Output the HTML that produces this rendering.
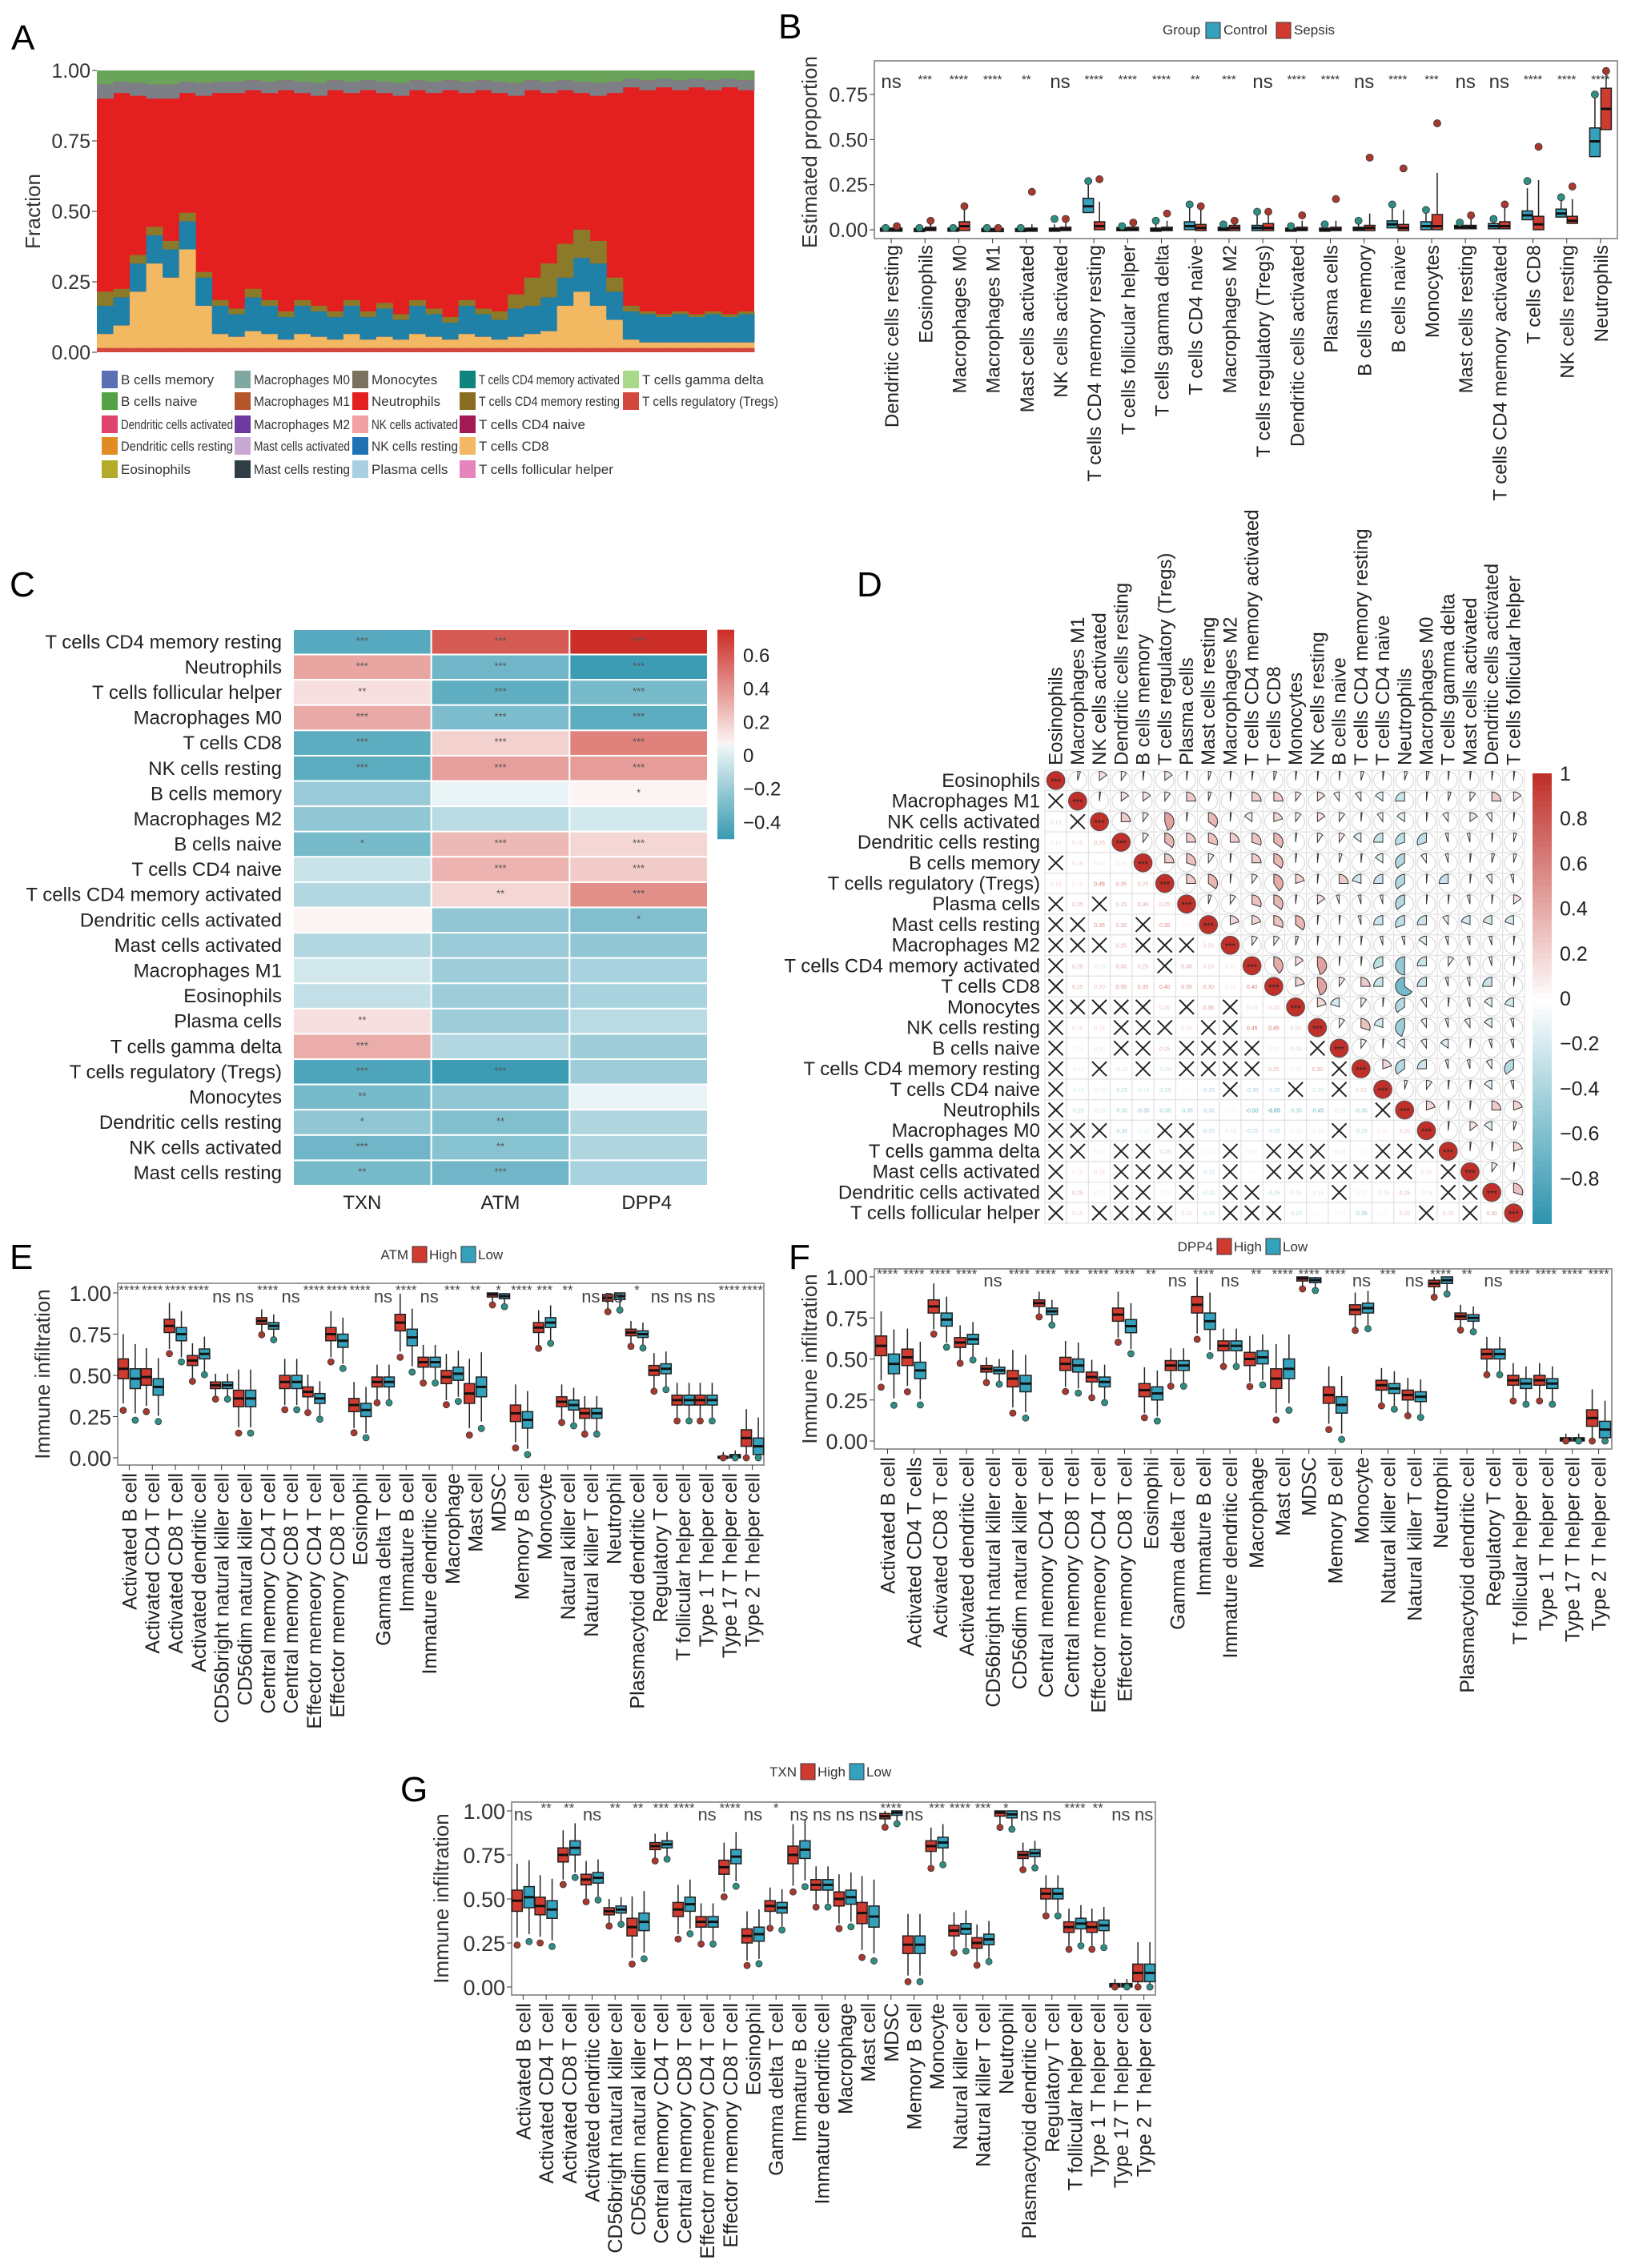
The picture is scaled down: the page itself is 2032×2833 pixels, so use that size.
<!DOCTYPE html>
<html><head><meta charset="utf-8">
<style>
html,body{margin:0;padding:0;background:#fff;}
svg{display:block;font-family:"Liberation Sans",sans-serif;}
.n{font-family:"Liberation Sans Narrow","Liberation Sans",sans-serif;}
</style></head>
<body>
<svg id="fig" width="2032" height="2833" viewBox="0 0 2032 2833" xmlns="http://www.w3.org/2000/svg"></svg>
<script>
// ---------- DATA ----------
const aOrange=[0.05,0.08,0.2,0.3,0.25,0.35,0.15,0.05,0.04,0.06,0.05,0.03,0.05,0.04,0.03,0.05,0.03,0.04,0.03,0.05,0.04,0.03,0.05,0.04,0.03,0.04,0.05,0.06,0.15,0.2,0.15,0.1,0.03,0.02,0.02,0.02,0.02,0.02,0.02,0.02];
const aTeal=[0.1,0.1,0.1,0.1,0.1,0.1,0.1,0.1,0.08,0.12,0.1,0.08,0.1,0.09,0.08,0.1,0.08,0.1,0.07,0.1,0.08,0.06,0.1,0.08,0.07,0.1,0.1,0.12,0.1,0.12,0.15,0.1,0.1,0.1,0.09,0.1,0.09,0.1,0.09,0.1];
const aOlive=[0.05,0.03,0.03,0.03,0.03,0.03,0.02,0.02,0.02,0.03,0.02,0.02,0.02,0.02,0.02,0.02,0.02,0.02,0.02,0.02,0.02,0.02,0.02,0.02,0.03,0.05,0.1,0.12,0.12,0.1,0.08,0.05,0.02,0.01,0.01,0.01,0.01,0.01,0.01,0.01];
const aTop=[0.1,0.08,0.09,0.1,0.1,0.08,0.09,0.08,0.08,0.07,0.08,0.07,0.08,0.09,0.07,0.08,0.07,0.08,0.09,0.07,0.08,0.07,0.08,0.07,0.08,0.09,0.07,0.08,0.07,0.08,0.09,0.08,0.06,0.07,0.06,0.07,0.06,0.07,0.06,0.07];
const aTicks=["0.00","0.25","0.50","0.75","1.00"];
const legNames=["B cells memory","B cells naive","Dendritic cells activated","Dendritic cells resting","Eosinophils","Macrophages M0","Macrophages M1","Macrophages M2","Mast cells activated","Mast cells resting","Monocytes","Neutrophils","NK cells activated","NK cells resting","Plasma cells","T cells CD4 memory activated","T cells CD4 memory resting","T cells CD4 naive","T cells CD8","T cells follicular helper","T cells gamma delta","T cells regulatory (Tregs)"];
const legColors=["#5b6fb5","#55a146","#e0436d","#e08c24","#b3ab2a","#7fa9a0","#b5552a","#6c3a9e","#c9a9d4","#2f3d44","#7b715e","#e3201f","#f2a0a3","#1f73b5","#a9cfe3","#0f857e","#8a6d22","#a01b52","#f3b862","#e584bd","#a8d88a","#d4473d"];
const bCats=["Dendritic cells resting","Eosinophils","Macrophages M0","Macrophages M1","Mast cells activated","NK cells activated","T cells CD4 memory resting","T cells follicular helper","T cells gamma delta","T cells CD4 naive","Macrophages M2","T cells regulatory (Tregs)","Dendritic cells activated","Plasma cells","B cells memory","B cells naive","Monocytes","Mast cells resting","T cells CD4 memory activated","T cells CD8","NK cells resting","Neutrophils"];
const bSig=["ns","***","****","****","**","ns","****","****","****","**","***","ns","****","****","ns","****","***","ns","ns","****","****","****"];
const ctrlQ1=[0,0,0,0,0,0,0.1,0,0,0.005,0,0,0,0,0,0.015,0.005,0.01,0.01,0.06,0.075,0.41];
const ctrlMed=[0,0,0,0,0,0,0.13,0.003,0,0.02,0.003,0.01,0,0,0.005,0.03,0.02,0.015,0.02,0.08,0.09,0.49];
const ctrlQ3=[0.005,0.003,0.005,0.003,0.003,0.005,0.17,0.008,0.005,0.04,0.01,0.02,0.005,0.005,0.01,0.045,0.04,0.02,0.03,0.1,0.11,0.56];
const ctrlMax=[0.01,0.01,0.01,0.01,0.01,0.06,0.27,0.02,0.05,0.14,0.03,0.1,0.02,0.03,0.05,0.14,0.11,0.04,0.06,0.27,0.18,0.75];
const sepQ1=[0,0,0,0,0,0,0.005,0,0,0,0,0,0,0,0,0,0.005,0.01,0.01,0.005,0.04,0.56];
const sepMed=[0,0.003,0.02,0,0,0.003,0.02,0.003,0.003,0.01,0.01,0.01,0.003,0.003,0.01,0.01,0.02,0.015,0.02,0.03,0.05,0.67];
const sepQ3=[0.005,0.01,0.04,0.003,0.005,0.01,0.04,0.01,0.01,0.025,0.02,0.03,0.01,0.01,0.02,0.025,0.08,0.02,0.04,0.07,0.07,0.78];
const sepMax=[0.02,0.05,0.13,0.01,0.21,0.06,0.28,0.04,0.09,0.13,0.05,0.1,0.08,0.17,0.4,0.34,0.59,0.08,0.14,0.46,0.24,0.88];
const bTicks=[0,0.25,0.5,0.75];
const cRows=["T cells CD4 memory resting","Neutrophils","T cells follicular helper","Macrophages M0","T cells CD8","NK cells resting","B cells memory","Macrophages M2","B cells naive","T cells CD4 naive","T cells CD4 memory activated","Dendritic cells activated","Mast cells activated","Macrophages M1","Eosinophils","Plasma cells","T cells gamma delta","T cells regulatory (Tregs)","Monocytes","Dendritic cells resting","NK cells activated","Mast cells resting"];
const cCols=["TXN","ATM","DPP4"];
const cTXN=[-0.4,0.35,0.15,0.33,-0.38,-0.38,-0.2,-0.22,-0.3,-0.05,-0.12,0.08,-0.12,-0.02,-0.07,0.15,0.32,-0.42,-0.3,-0.22,-0.32,-0.3];
const cATM=[0.6,-0.32,-0.37,-0.28,0.2,0.37,0.05,-0.1,0.28,0.3,0.18,-0.22,-0.2,-0.18,-0.18,-0.18,-0.12,-0.48,-0.22,-0.27,-0.25,-0.32];
const cDPP4=[0.75,-0.48,-0.3,-0.38,0.47,0.38,0.08,-0.02,0.18,0.22,0.42,-0.27,-0.22,-0.15,-0.15,-0.1,-0.18,-0.18,0.05,-0.13,-0.13,-0.15];
const cSigTXN=["***","***","**","***","***","***","","","*","","","","","","","**","***","***","**","*","***","**"];
const cSigATM=["***","***","***","***","***","***","","","***","***","**","","","","","","","***","","**","**","***"];
const cSigDPP4=["***","***","***","***","***","***","*","","***","***","***","*","","","","","","","","","",""];
const cTicks=[0.6,0.4,0.2,0,-0.2,-0.4];
const dLabels=["Eosinophils","Macrophages M1","NK cells activated","Dendritic cells resting","B cells memory","T cells regulatory (Tregs)","Plasma cells","Mast cells resting","Macrophages M2","T cells CD4 memory activated","T cells CD8","Monocytes","NK cells resting","B cells naive","T cells CD4 memory resting","T cells CD4 naive","Neutrophils","Macrophages M0","T cells gamma delta","Mast cells activated","Dendritic cells activated","T cells follicular helper"];
const dUpper=[
[0.05,0.15,0.1,0.02,0.15,0.02,0.05,0.02,0.02,0.05,0.02,0.02,0.02,0.05,0.02,0.05,0.05,0.02,0.02,0.02,0.02],
[0.02,0.15,0.15,0.1,0.25,0.05,0.02,0.25,0.25,0.1,0.15,-0.1,-0.1,-0.15,-0.25,0.02,0.05,0.1,0.25,0.15],
[0.25,0.1,0.45,0.02,0.35,0.02,-0.15,0.2,0.1,0.15,0.1,0.02,-0.1,-0.15,0.02,-0.1,0.15,-0.1,0.02],
[0.1,0.35,0.25,0.3,0.25,0.3,0.35,0.02,0.1,0.1,-0.15,-0.25,-0.3,-0.3,-0.05,-0.05,0.02,0.05],
[0.25,0.3,0.1,0.02,0.25,0.35,0.02,0.02,0.05,0.02,-0.15,-0.35,-0.1,-0.05,0.02,0.05,0.05],
[0.25,0.35,0.02,0.1,0.4,0.2,0.02,0.25,-0.2,-0.25,-0.35,0.02,-0.25,0.02,-0.1,-0.05],
[0.05,0.1,0.3,0.35,0.02,0.15,-0.05,-0.05,-0.05,-0.35,0.02,0.02,-0.05,0.02,0.15],
[0.2,0.2,0.3,0.35,0.02,0.02,-0.05,-0.25,-0.3,-0.25,-0.1,-0.2,-0.2,-0.2],
[0.1,0.1,0.05,0.02,0.02,0.02,-0.05,-0.05,-0.15,-0.05,-0.05,-0.05,0.02],
[0.4,0.15,0.45,0.02,0.02,-0.3,-0.5,-0.25,0.1,-0.05,-0.05,0.02],
[0.2,0.45,0.1,0.25,-0.25,-0.65,-0.25,-0.05,-0.05,-0.25,0.02],
[0.2,-0.2,0.1,0.02,-0.35,-0.1,0.02,-0.05,-0.15,-0.2],
[0.1,0.3,-0.2,-0.45,-0.1,-0.05,-0.1,-0.15,-0.05],
[0.1,0.02,-0.15,-0.1,-0.15,0.02,-0.05,-0.05],
[0.2,-0.35,-0.25,-0.05,-0.05,-0.1,-0.35],
[0.05,0.1,0.02,0.02,-0.15,-0.05],
[0.2,0.02,0.02,0.25,0.2],
[0.02,0.15,-0.15,0.05],
[0.02,0.02,0.2],
[0.1,0.02],
[0.3]];
const dNonSig=[[],[0],[1],[],[0],[],[0,2],[0,1,4],[0,1,2,4,5,6],[0,5],[0],[0,1,2,3,4,6,8],[0,3,4,5,7,8],[0,3,4,6,7,8,9,12],[0,2,4,6,7,8,9,13],[0,8,11,13],[0,15],[0,1,2,5,6,13],[0,1,3,4,6,8,10,11,12,15,16,17],[0,3,4,5,6,8,10,11,12,13,14,15,16,18],[0,3,4,6,8,9,13,18,19],[0,2,3,4,5,8,9,10,17,19]];
const dTicks=[1,0.8,0.6,0.4,0.2,0,-0.2,-0.4,-0.6,-0.8];
const imCats=["Activated B cell","Activated CD4 T cell","Activated CD8 T cell","Activated dendritic cell","CD56bright natural killer cell","CD56dim natural killer cell","Central memory CD4 T cell","Central memory CD8 T cell","Effector memeory CD4 T cell","Effector memory CD8 T cell","Eosinophil","Gamma delta T cell","Immature B cell","Immature dendritic cell","Macrophage","Mast cell","MDSC","Memory B cell","Monocyte","Natural killer cell","Natural killer T cell","Neutrophil","Plasmacytoid dendritic cell","Regulatory T cell","T follicular helper cell","Type 1 T helper cell","Type 17 T helper cell","Type 2 T helper cell"];
const imSpread=[0.06,0.05,0.04,0.03,0.02,0.05,0.02,0.04,0.03,0.04,0.04,0.03,0.05,0.03,0.04,0.06,0.015,0.05,0.03,0.03,0.03,0.02,0.02,0.03,0.03,0.03,0.01,0.05];
const eHigh=[0.54,0.49,0.8,0.59,0.44,0.36,0.83,0.46,0.4,0.75,0.32,0.46,0.82,0.58,0.49,0.39,0.99,0.27,0.79,0.34,0.27,0.97,0.76,0.53,0.35,0.35,0.0,0.12];
const eLow=[0.48,0.43,0.75,0.63,0.44,0.36,0.8,0.46,0.36,0.71,0.29,0.46,0.73,0.58,0.51,0.43,0.98,0.23,0.82,0.32,0.27,0.98,0.75,0.54,0.35,0.35,0.01,0.07];
const eSig=["****","****","****","****","ns","ns","****","ns","****","****","****","ns","****","ns","***","**","*","****","***","**","ns","ns","*","ns","ns","ns","****","****"];
const fHigh=[0.58,0.51,0.82,0.6,0.44,0.38,0.84,0.47,0.39,0.77,0.31,0.46,0.83,0.58,0.5,0.38,0.99,0.28,0.8,0.34,0.28,0.96,0.76,0.53,0.37,0.37,0.01,0.14];
const fLow=[0.47,0.43,0.74,0.62,0.43,0.35,0.79,0.46,0.36,0.7,0.29,0.46,0.73,0.58,0.51,0.44,0.98,0.22,0.81,0.32,0.27,0.98,0.75,0.53,0.35,0.35,0.01,0.07];
const fSig=["****","****","****","****","ns","****","****","***","****","****","**","ns","****","ns","**","****","****","****","ns","***","ns","****","**","ns","****","****","****","****"];
const gHigh=[0.49,0.46,0.75,0.61,0.43,0.34,0.8,0.44,0.37,0.68,0.29,0.46,0.75,0.58,0.5,0.42,0.97,0.24,0.8,0.32,0.25,0.99,0.75,0.53,0.34,0.34,0.01,0.08];
const gLow=[0.51,0.44,0.79,0.62,0.44,0.37,0.81,0.47,0.37,0.74,0.3,0.45,0.78,0.58,0.51,0.4,0.99,0.24,0.82,0.33,0.27,0.98,0.76,0.53,0.36,0.35,0.01,0.08];
const gSig=["ns","**","**","ns","**","**","***","****","ns","****","ns","*","ns","ns","ns","ns","****","ns","***","****","***","*","ns","ns","****","**","ns","ns"];
const imTicks=["0.00","0.25","0.50","0.75","1.00"];

// ---------- helpers ----------
const NS="http://www.w3.org/2000/svg";
const svg=document.getElementById('fig');
function mk(tag,attrs,parent){const e=document.createElementNS(NS,tag);for(const k in attrs)e.setAttribute(k,attrs[k]);(parent||svg).appendChild(e);return e;}
function txt(s,attrs,parent){const e=mk('text',attrs,parent);e.textContent=s;return e;}
function fit(t,maxW){try{const w=t.getComputedTextLength();if(w>maxW){t.setAttribute('textLength',maxW);t.setAttribute('lengthAdjust','spacingAndGlyphs');}}catch(e){}}
function lerp(a,b,t){return a+(b-a)*t;}
function mix(c1,c2,t){const p=c=>[parseInt(c.substr(1,2),16),parseInt(c.substr(3,2),16),parseInt(c.substr(5,2),16)];const a=p(c1),b=p(c2);return 'rgb('+a.map((v,i)=>Math.round(lerp(v,b[i],t))).join(',')+')';}
const RED="#d13b2f",TEAL="#35a2bd";

[["A",14,62],["B",972,48],["C",12,745],["D",1070,745],["E",12,1585],["F",985,1585],["G",500,2250]].forEach(p=>{
  const t=txt(p[0],{x:p[1],y:p[2],'font-size':44},svg);
  
  
});

// ---------- Panel A ----------
(function(){
  const g=mk('g',{});
  
  
  const x0=121,x1=942,y0=88,y1=440;
  const ys=v=>y1-v*(y1-y0);
  const n=aOrange.length,w=(x1-x0)/n;
  mk('rect',{x:x0,y:y0,width:x1-x0,height:y1-y0,fill:'#e3201f'},g);
  for(let i=0;i<n;i++){
    const x=x0+i*w;let acc=0;
    const segs=[[0.015,'#d4473d'],[aOrange[i],'#f3b862'],[aTeal[i],'#1f80a8'],[aOlive[i],'#8a7a2a']];
    segs.forEach(s=>{const r=mk('rect',{x:x,y:ys(acc+s[0]),width:w+0.5,height:s[0]*(y1-y0),fill:s[1]},g);
      acc+=s[0];});
    const top=aTop[i];
    const r1=mk('rect',{x:x,y:ys(1),width:w+0.5,height:top*0.5*(y1-y0),fill:'#6aa35a'},g);
    
    const r2=mk('rect',{x:x,y:ys(1-top*0.5),width:w+0.5,height:top*0.5*(y1-y0),fill:'#7d7f86'},g);
    
  }
  aTicks.forEach((t,i)=>{const v=i*0.25;
    mk('line',{x1:x0-6,x2:x0,y1:ys(v),y2:ys(v),stroke:'#333'},g);
    const l=txt(t,{x:x0-8,y:ys(v)+9,'text-anchor':'end','font-size':25,fill:'#333',class:'n'},g);
    });
  const yt=txt('Fraction',{x:0,y:0,transform:'translate(50,264) rotate(-90)','text-anchor':'middle','font-size':26,fill:'#333'},g);
  
  const cx=[127,293,440,574,778],ry=[474,501,530,557,586],avail=[140,120,108,176,170];
  legNames.forEach((nm,i)=>{const c=Math.floor(i/5),r=i%5;
    const le=mk('g',{},g);
    mk('rect',{x:cx[c],y:ry[r]-11,width:20,height:22,fill:legColors[i]},le);
    const t=txt(nm,{x:cx[c]+24,y:ry[r]+6,'font-size':17,fill:'#333',class:'n'},le);
    fit(t,avail[c]);});
})();

// ---------- Panel B ----------
(function(){
  const g=mk('g',{});
  
  
  const x0=1092,x1=2020,y0=76,y1=298;
  const ys=v=>287-v*(287-118)/0.75;
  mk('rect',{x:x0,y:y0,width:x1-x0,height:y1-y0,fill:'none',stroke:'#999','stroke-width':2},g);
  const n=bCats.length,step=(x1-x0)/n,bw=13;
  bTicks.forEach(v=>{mk('line',{x1:x0-6,x2:x0,y1:ys(v),y2:ys(v),stroke:'#333'},g);
    const l=txt(v.toFixed(2),{x:x0-8,y:ys(v)+9,'text-anchor':'end','font-size':25,fill:'#333',class:'n'},g);
    });
  const yt=txt('Estimated proportion',{transform:'translate(1020,190) rotate(-90)','text-anchor':'middle','font-size':26,fill:'#333'},g);
  
  function box(cx,q1,m,q3,mx,col){
    const bg=mk('g',{},g);
    mk('line',{x1:cx,x2:cx,y1:ys(q3),y2:ys(Math.min(mx,q3+(q3-q1)*3+0.01)),stroke:'#222','stroke-width':1.5},bg);
    mk('rect',{x:cx-bw/2,y:ys(q3)-1,width:bw,height:Math.max(2,ys(q1)-ys(q3))+2,fill:col,stroke:'#222','stroke-width':1.5},bg);
    mk('line',{x1:cx-bw/2,x2:cx+bw/2,y1:ys(m),y2:ys(m),stroke:'#111','stroke-width':3},bg);
    mk('circle',{cx:cx,cy:ys(mx),r:4.5,fill:col==RED?'#a8392e':'#2f8f85',stroke:'#333','stroke-width':0.8},bg);
  }
  bCats.forEach((c,i)=>{const cx=x0+step*(i+0.5);
    box(cx-7,ctrlQ1[i],ctrlMed[i],ctrlQ3[i],ctrlMax[i],TEAL);
    box(cx+7,sepQ1[i],sepMed[i],sepQ3[i],sepMax[i],RED);
    mk('line',{x1:cx,x2:cx,y1:y1,y2:y1+6,stroke:'#333'},g);
    const s=bSig[i],isNs=s=='ns';
    const st=txt(s,{x:cx,y:isNs?110:104,'text-anchor':'middle','font-size':isNs?24:15,fill:'#333',class:'n'},g);
    
    const l=txt(c,{transform:`translate(${cx+9},306) rotate(-90)`,'text-anchor':'end','font-size':24,fill:'#222'},g);
    });
  const lg=mk('g',{},g);
  txt('Group',{x:1452,y:43,'font-size':17,fill:'#333',class:'n'},lg);
  mk('rect',{x:1506,y:28,width:18,height:20,fill:TEAL,stroke:'#333'},lg);
  txt('Control',{x:1528,y:43,'font-size':17,fill:'#333',class:'n'},lg);
  mk('rect',{x:1594,y:28,width:18,height:20,fill:RED,stroke:'#333'},lg);
  txt('Sepsis',{x:1616,y:43,'font-size':17,fill:'#333',class:'n'},lg);
})();

// ---------- Panel C ----------
(function(){
  const g=mk('g',{});
  
  
  const x0=366,x1=884,y0=786,y1=1481;
  const rh=(y1-y0)/cRows.length,cw=(x1-x0)/3;
  const color=v=>v>=0.08?mix('#fbf4f3','#cc2f27',Math.min(1,(v-0.08)/0.67)):mix('#f4f8f9','#3599b2',Math.min(1,(0.08-v)/0.58));
  const vals=[cTXN,cATM,cDPP4],sigs=[cSigTXN,cSigATM,cSigDPP4];
  cRows.forEach((r,i)=>{
    for(let j=0;j<3;j++){
      const c=mk('rect',{x:x0+j*cw,y:y0+i*rh,width:cw,height:rh,fill:color(vals[j][i]),stroke:'#fff','stroke-width':2},g);
      
      if(sigs[j][i]){const s=txt(sigs[j][i],{x:x0+(j+0.5)*cw,y:y0+i*rh+rh/2+3,'text-anchor':'middle','font-size':13,fill:'#555'},g);
        }
    }
    const l=txt(r,{x:352,y:y0+i*rh+rh/2+8,'text-anchor':'end','font-size':24,fill:'#222',class:'n'},g);
    
  });
  cCols.forEach((c,j)=>{const l=txt(c,{x:x0+(j+0.5)*cw+(j==2?10:0),y:1510,'text-anchor':'middle','font-size':24,fill:'#222',class:'n'},g);
    });
  const cb=mk('g',{},g);
  const cy=v=>943-v*(41.7/0.2);
  for(let k=0;k<60;k++){const v=0.75-k*(1.25/60);
    mk('rect',{x:896,y:cy(v),width:21,height:(1.25/60)*208.5+1,fill:color(v)},cb);}
  cTicks.forEach(v=>{const t=txt(v<0?'\u2212'+Math.abs(v).toFixed(1):(v==0?'0':v.toFixed(1)),{x:928,y:cy(v)+9,'font-size':24,fill:'#222',class:'n'},cb);
    });
})();

// ---------- Panel D ----------
(function(){
  const g=mk('g',{});
  
  
  const n=dLabels.length,x0=1305,x1=1904,y0=962,y1=1528;
  const cw=(x1-x0)/n,ch=(y1-y0)/n;
  const color=v=>v>=0?mix('#ffffff','#c0302a',Math.min(1,v)):mix('#ffffff','#2a93ad',Math.min(1,-v));
  const corr=(a,b)=>{const v=dUpper[a]&&dUpper[a][b-a-1];return (typeof v==='number')?v:0;};
  for(let i=0;i<n;i++){
    const l=txt(dLabels[i],{x:x0-6,y:y0+(i+0.5)*ch+8,'text-anchor':'end','font-size':24,fill:'#222'},g);
    
    const cl=txt(dLabels[i],{transform:`translate(${x0+(i+0.5)*cw+8},${y0-6}) rotate(-90)`,'font-size':24,fill:'#222'},g);
    
    for(let j=0;j<n;j++){
      const cx=x0+(j+0.5)*cw,cy=y0+(i+0.5)*ch;
      mk('rect',{x:x0+j*cw,y:y0+i*ch,width:cw,height:ch,fill:'#fff',stroke:'#e2e2e2','stroke-width':1.2},g);
      const R=Math.min(cw,ch)/2-1.5;
      if(i==j){const d=mk('circle',{cx:cx,cy:cy,r:R,fill:'#c0302a',stroke:'#555','stroke-width':1},g);
        
        txt('***',{x:cx,y:cy+5,'text-anchor':'middle','font-size':11,fill:'#222'},g);}
      else if(j>i){
        const v=corr(i,j);
        mk('circle',{cx:cx,cy:cy,r:R,fill:'none',stroke:'#d9d9d9','stroke-width':1.2},g);
        const a=Math.abs(v)*2*Math.PI*(v>=0?1:-1);
        const ex=cx+R*Math.sin(a),ey=cy-R*Math.cos(a);
        const large=Math.abs(v)>0.5?1:0,sw=v>=0?1:0;
        const p=mk('path',{d:`M${cx},${cy} L${cx},${cy-R} A${R},${R} 0 ${large} ${sw} ${ex},${ey} Z`,fill:color(v),stroke:'#333','stroke-width':1},g);
        
      } else {
        if(dNonSig[i].indexOf(j)>=0){
          const x=mk('path',{d:`M${cx-9},${cy-9} L${cx+9},${cy+9} M${cx+9},${cy-9} L${cx-9},${cy+9}`,stroke:'#222','stroke-width':2},g);
          
        } else {
          const v=corr(j,i);
          txt(v.toFixed(2),{x:cx,y:cy+3,'text-anchor':'middle','font-size':7,fill:color(v*1.5)},g);
        }
      }
    }
  }
  const cb=mk('g',{},g);
  const cy=v=>966+(1-v)*281;
  for(let k=0;k<80;k++){const v=1-k*(2/80);
    mk('rect',{x:1914,y:cy(v),width:24,height:(2/80)*281+1,fill:color(v)},cb);}
  dTicks.forEach(v=>{const t=txt(v<0?'\u2212'+Math.abs(v).toFixed(1):(v==0?'0':(v==1?'1':v.toFixed(1))),{x:1948,y:cy(v)+9,'font-size':25,fill:'#222'},cb);
    });
})();

// ---------- Panels E/F/G ----------
function immune(name,x0,x1,y0,y1,yTop,yBot,hi,lo,sig,gene,legX,legY,titleX,lblY,lblSuffix){
  const g=mk('g',{});
  
  
  const ys=v=>yBot-v*(yBot-yTop);
  mk('rect',{x:x0,y:y0,width:x1-x0,height:y1-y0,fill:'none',stroke:'#999','stroke-width':2},g);
  imTicks.forEach((t,i)=>{const v=i*0.25;
    mk('line',{x1:x0-6,x2:x0,y1:ys(v),y2:ys(v),stroke:'#333'},g);
    const l=txt(t,{x:x0-8,y:ys(v)+10,'text-anchor':'end','font-size':27,fill:'#333',class:'n'},g);
    });
  const yt=txt('Immune infiltration',{transform:`translate(${titleX},${(y0+y1)/2}) rotate(-90)`,'text-anchor':'middle','font-size':26,fill:'#333'},g);
  
  const n=imCats.length,step=(x1-x0)/n,bw=Math.min(14,step*0.45);
  function box(cx,m,s,col){
    const bg=mk('g',{},g);
    const q1=Math.max(0,m-s),q3=Math.min(1,m+s);
    mk('line',{x1:cx,x2:cx,y1:ys(Math.min(1,q3+2.5*s)),y2:ys(Math.max(0,q1-2.5*s)),stroke:'#222','stroke-width':1.5},bg);
    mk('rect',{x:cx-bw/2,y:ys(q3),width:bw,height:Math.max(2,ys(q1)-ys(q3)),fill:col,stroke:'#222','stroke-width':1.5},bg);
    mk('line',{x1:cx-bw/2,x2:cx+bw/2,y1:ys(m),y2:ys(m),stroke:'#111','stroke-width':3},bg);
    mk('circle',{cx:cx,cy:ys(Math.max(0,q1-3.2*s)),r:4,fill:col==RED?'#a8392e':'#2f8f85',stroke:'#333','stroke-width':0.8},bg);
  }
  imCats.forEach((c,i)=>{const cx=x0+step*(i+0.5);
    box(cx-bw/2-1,hi[i],imSpread[i],RED);
    box(cx+bw/2+1,lo[i],imSpread[i],TEAL);
    mk('line',{x1:cx,x2:cx,y1:y1,y2:y1+6,stroke:'#333'},g);
    const s=sig[i],isNs=s=='ns';
    const st=txt(s,{x:cx,y:isNs?ys(1)+12:ys(1)+2,'text-anchor':'middle','font-size':isNs?22:17,fill:'#444',class:'n'},g);
    
    let lab=c;if(lblSuffix&&i==1)lab=c+'s';
    const l=txt(lab,{transform:`translate(${cx+9},${lblY}) rotate(-90)`,'text-anchor':'end','font-size':25,fill:'#222'},g);
    });
  const lg=mk('g',{},g);
  txt(gene,{x:legX,y:legY+6,'font-size':17,fill:'#333',class:'n','text-anchor':'end'},lg);
  mk('rect',{x:legX+5,y:legY-10,width:18,height:20,fill:RED,stroke:'#333'},lg);
  txt('High',{x:legX+26,y:legY+6,'font-size':17,fill:'#333',class:'n'},lg);
  mk('rect',{x:legX+66,y:legY-10,width:18,height:20,fill:TEAL,stroke:'#333'},lg);
  txt('Low',{x:legX+87,y:legY+6,'font-size':17,fill:'#333',class:'n'},lg);
}
immune('panel-e-boxplot',147,954,1603,1830,1615,1821,eHigh,eLow,eSig,'ATM',510,1567,62,1840,false);
immune('panel-f-boxplot',1092,2013,1585,1810,1595,1800,fHigh,fLow,fSig,'DPP4',1515,1557,1020,1820,true);
immune('panel-g-boxplot',639,1443,2251,2492,2262,2482,gHigh,gLow,gSig,'TXN',995,2213,560,2502,false);
</script>
</body></html>
